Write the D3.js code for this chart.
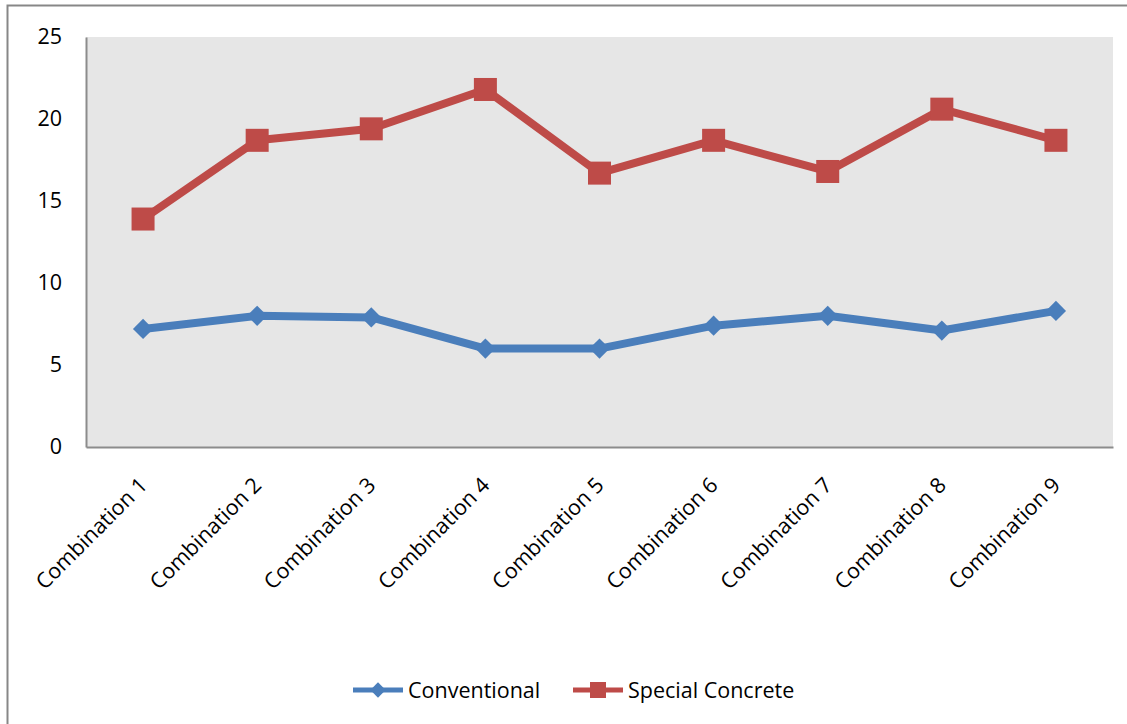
<!DOCTYPE html>
<html>
<head>
<meta charset="utf-8">
<script src="https://cdn.jsdelivr.net/npm/d3@7"></script>
<style>
  body { margin: 0; background: #fff; }
  svg text { font-family: "Open Sans", Lato, sans-serif; fill: #000; }
</style>
</head>
<body>
<script>
// chart values
var categories = ["Combination 1", "Combination 2", "Combination 3", "Combination 4", "Combination 5",
                  "Combination 6", "Combination 7", "Combination 8", "Combination 9"];
var conventional = [7.2, 8.0, 7.9, 6.0, 6.0, 7.4, 8.0, 7.1, 8.3];
var specialConcrete = [13.9, 18.7, 19.4, 21.8, 16.7, 18.7, 16.8, 20.6, 18.7];
var yTicks = [0, 5, 10, 15, 20, 25];

var W = 1127, H = 724;
var margin = {top: 37, right: 14, bottom: 277, left: 86},
    width = W - margin.left - margin.right,
    height = H - margin.top - margin.bottom;

var svg = d3.select("body").append("svg")
    .attr("width", W)
    .attr("height", H);

// outer chart border
svg.append("rect")
    .attr("x", 7.5).attr("y", 5.5)
    .attr("width", W + 20).attr("height", H + 20)
    .attr("fill", "none")
    .attr("stroke", "#878787")
    .attr("stroke-width", 2);

var g = svg.append("g")
    .attr("transform", "translate(" + margin.left + "," + margin.top + ")");

var x = d3.scaleBand().domain(categories).range([0, width]);
var y = d3.scaleLinear().domain([0, 25]).range([height, 0]);

// plot area
g.append("rect")
    .attr("width", width).attr("height", height)
    .attr("fill", "#e6e6e6");

// y axis
var yAxis = g.append("g")
    .call(d3.axisLeft(y).tickValues(yTicks).tickSize(0).tickPadding(24));
yAxis.select(".domain").attr("stroke", "#8c8c8c").attr("stroke-width", 2);
yAxis.selectAll("text").style("font-size", "21.5px");

// x axis
var xAxis = g.append("g")
    .attr("transform", "translate(0," + height + ")")
    .call(d3.axisBottom(x).tickSize(0));
xAxis.select(".domain").attr("stroke", "#8c8c8c").attr("stroke-width", 2);
xAxis.selectAll("text")
    .style("font-size", "21.5px")
    .style("text-anchor", "end")
    .attr("y", 0)
    .attr("dy", "0.7em")
    .attr("transform", "translate(-5,29) rotate(-45)");

var line = d3.line()
    .x(function(d, i) { return x(categories[i]) + x.bandwidth() / 2; })
    .y(function(d) { return y(d); });

var blue = "#4a7ebb", red = "#be4b48";

g.append("path").datum(conventional)
    .attr("d", line).attr("fill", "none")
    .attr("stroke", blue).attr("stroke-width", 8).attr("stroke-linejoin", "round");
g.append("path").datum(specialConcrete)
    .attr("d", line).attr("fill", "none")
    .attr("stroke", red).attr("stroke-width", 8).attr("stroke-linejoin", "round");

var diamond = d3.symbol().type(d3.symbolDiamond2).size(260);

g.selectAll(".conv").data(conventional).enter().append("path")
    .attr("d", diamond)
    .attr("transform", function(d, i) {
      return "translate(" + (x(categories[i]) + x.bandwidth() / 2) + "," + y(d) + ")";
    })
    .attr("fill", blue);

g.selectAll(".spec").data(specialConcrete).enter().append("rect")
    .attr("x", function(d, i) { return x(categories[i]) + x.bandwidth() / 2 - 11.5; })
    .attr("y", function(d) { return y(d) - 11.5; })
    .attr("width", 23).attr("height", 23)
    .attr("fill", red);

// legend
var legend = svg.append("g").attr("transform", "translate(0,690)");
var items = [
  {name: "Conventional", color: blue, x: 353},
  {name: "Special Concrete", color: red, x: 573}
];
items.forEach(function(it, k) {
  var lg = legend.append("g").attr("transform", "translate(" + it.x + ",0)");
  lg.append("line").attr("x1", 0).attr("x2", 50)
    .attr("stroke", it.color).attr("stroke-width", 5);
  if (k === 0) {
    lg.append("path").attr("d", d3.symbol().type(d3.symbolDiamond2).size(150))
      .attr("transform", "translate(25,0)").attr("fill", it.color);
  } else {
    lg.append("rect").attr("x", 17).attr("y", -8).attr("width", 16).attr("height", 16)
      .attr("fill", it.color);
  }
  lg.append("text").attr("x", 55).attr("dy", "0.35em")
    .style("font-size", "21.5px").text(it.name);
});
</script>
</body>
</html>
